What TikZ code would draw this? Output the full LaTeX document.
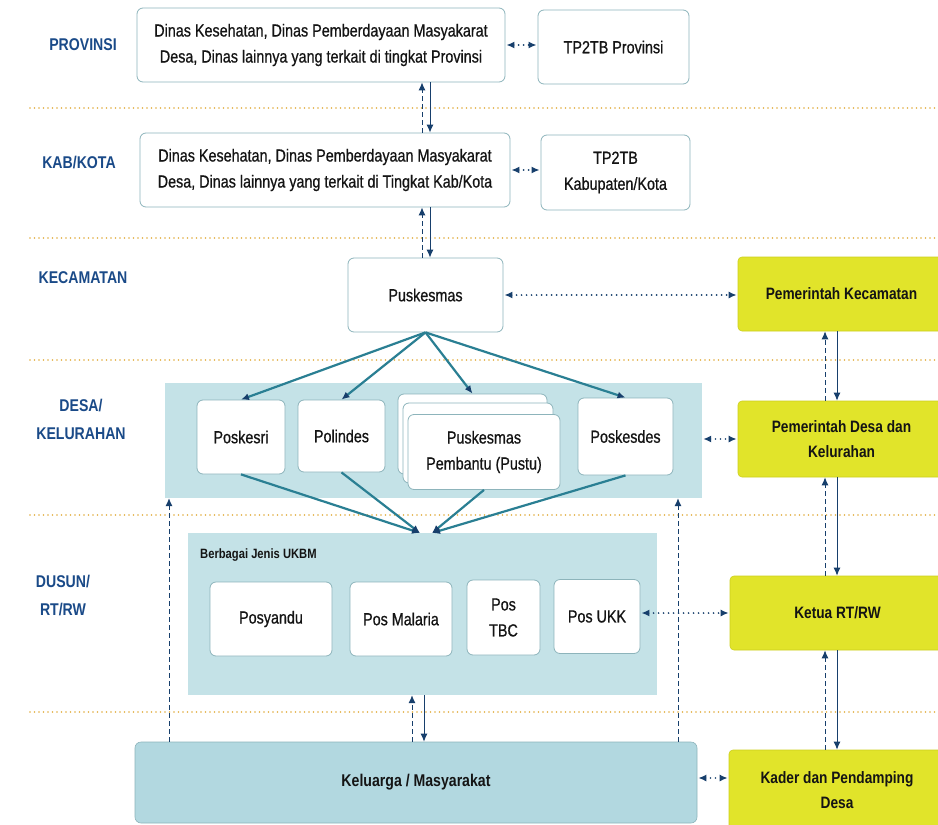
\documentclass[tikz,border=0pt]{standalone}
\usepackage{fontspec}
\setmainfont{Liberation Sans}[FakeStretch=0.83]
\newfontfamily\medfont{Liberation Sans}[FakeStretch=0.82, FakeBold=0.7]
\usetikzlibrary{arrows.meta}
\definecolor{arrnavy}{HTML}{173F6C}
\definecolor{tealc}{HTML}{2A7F93}
\definecolor{boxedge}{HTML}{8DB4BB}
\definecolor{yel}{HTML}{E1E42A}
\definecolor{yeledge}{HTML}{CDD01E}
\definecolor{bgblue}{HTML}{C4E2E7}
\definecolor{kelblue}{HTML}{B2D8E0}
\definecolor{lvlblue}{HTML}{1A4A88}
\definecolor{sepcol}{HTML}{E2AE40}
\definecolor{txt}{HTML}{141414}
\newcommand\boxfnt{\medfont\fontsize{17.5}{26}\selectfont}
\newcommand\ybfnt{\bfseries\fontsize{16.5}{25}\selectfont}
\newcommand\lvlfnt{\bfseries\fontsize{17}{28}\selectfont}
\begin{document}
\begin{tikzpicture}[x=1pt,y=-1pt,
  >={Latex[length=8pt,width=7pt,color=arrnavy]},
  wbox/.style={draw=boxedge, fill=white, rounded corners=6pt, line width=0.8pt, align=center, font=\boxfnt, text=txt, inner sep=2pt},
  ybox/.style={draw=yeledge, fill=yel, rounded corners=4pt, line width=0.6pt, align=center, font=\ybfnt, text=txt, inner sep=2pt},
  bgbox/.style={fill=bgblue, draw=none, inner sep=0pt},
  lvl/.style={text=lvlblue, font=\lvlfnt, align=center},
  sepline/.style={draw=sepcol, line width=1.8pt, dash pattern=on 0pt off 4.5pt, line cap=round},
  dotarr/.style={<->, draw=arrnavy, line width=1.8pt, dash pattern=on 0pt off 5pt, line cap=round, shorten <=1pt, shorten >=1pt},
  dashup/.style={->, draw=arrnavy, line width=1pt, dash pattern=on 5pt off 3pt},
  soliddn/.style={->, draw=arrnavy, line width=1pt},
  tealarr/.style={->, draw=tealc, line width=2.2pt}]
\useasboundingbox (0,0) rectangle (938,825);
\fill[white] (0,0) rectangle (938,825);

% separators
\foreach \yy in {108,238,360,515,712}
  \draw[sepline] (30,\yy) -- (938,\yy);

% level labels
\node[lvl] (lprov) at (83,45) {PROVINSI};
\node[lvl] (lkab) at (79,163) {KAB/KOTA};
\node[lvl] (lkec) at (83,278) {KECAMATAN};
\node[lvl] (ldesa) at (81,419) {DESA/\\KELURAHAN};
\node[lvl] (ldusun) at (63,596) {DUSUN/\\RT/RW};

% backgrounds
\node[bgbox, minimum width=537pt, minimum height=115pt] (desabg) at (433.5,440.5) {};
\node[bgbox, minimum width=469pt, minimum height=162pt] (ukbm) at (422.5,614) {};
\node[anchor=west, font=\bfseries\fontsize{13.5}{16}\selectfont, text=txt, inner sep=0pt] (ukbmlbl) at (200,555) {Berbagai Jenis UKBM};
\node[fill=kelblue, draw=boxedge, rounded corners=6pt, line width=0.6pt, minimum width=562pt, minimum height=81pt, font=\bfseries\fontsize{17}{24}\selectfont, text=txt] (kel) at (416,782.5) {Keluarga / Masyarakat};

% top boxes
\node[wbox, minimum width=368pt, minimum height=74pt] (prov) at (321,45) {Dinas Kesehatan, Dinas Pemberdayaan Masyakarat\\Desa, Dinas lainnya yang terkait di tingkat Provinsi};
\node[wbox, minimum width=151pt, minimum height=74pt] (tpprov) at (613.5,47) {TP2TB Provinsi};
\node[wbox, minimum width=370pt, minimum height=74pt] (kab) at (325,170) {Dinas Kesehatan, Dinas Pemberdayaan Masyakarat\\Desa, Dinas lainnya yang terkait di Tingkat Kab/Kota};
\node[wbox, minimum width=149pt, minimum height=75pt] (tpkab) at (615.5,172.5) {TP2TB\\Kabupaten/Kota};
\node[wbox, minimum width=155pt, minimum height=74pt] (pusk) at (425.5,295) {Puskesmas};

% desa boxes
\node[wbox, minimum width=88pt, minimum height=74pt] (poskesri) at (241,437) {Poskesri};
\node[wbox, minimum width=87pt, minimum height=72pt] (polindes) at (341.5,436) {Polindes};
\node[wbox, minimum width=149pt, minimum height=80pt] (pustub1) at (472.5,434) {};
\node[wbox, minimum width=150pt, minimum height=80pt] (pustub2) at (478,443) {};
\node[wbox, minimum width=152pt, minimum height=75pt] (pustu) at (484,452) {Puskesmas\\Pembantu (Pustu)};
\node[wbox, minimum width=95pt, minimum height=77pt] (poskesdes) at (625.5,436.5) {Poskesdes};

% ukbm boxes
\node[wbox, minimum width=122pt, minimum height=74pt] (posyandu) at (271,619) {Posyandu};
\node[wbox, minimum width=102pt, minimum height=74pt] (posmal) at (401,619) {Pos Malaria};
\node[wbox, minimum width=73pt, minimum height=75pt] (postbc) at (503.5,617.5) {Pos\\TBC};
\node[wbox, minimum width=86pt, minimum height=74pt] (posukk) at (597,616.5) {Pos UKK};

% yellow boxes
\node[ybox, minimum width=207pt, minimum height=74pt] (pkec) at (841.5,294) {Pemerintah Kecamatan};
\node[ybox, minimum width=207pt, minimum height=76pt] (pdesa) at (841.5,439) {Pemerintah Desa dan\\Kelurahan};
\node[ybox, minimum width=215pt, minimum height=74pt] (ketua) at (837.5,613) {Ketua RT/RW};
\node[ybox, minimum width=216pt, minimum height=80pt] (kader) at (837,790) {Kader dan Pendamping\\Desa};

% helper coordinates
\coordinate (va) at (422,0);
\coordinate (vb) at (430,0);
\coordinate (vc) at (412,0);
\coordinate (vd) at (424,0);
\coordinate (ve) at (825,0);
\coordinate (vf) at (837,0);
\coordinate (vl) at (169,0);
\coordinate (vr) at (678,0);
\coordinate (m1) at (420,533);
\coordinate (m2) at (432,533);
\coordinate (ky) at (0,778);

% horizontal dotted double arrows
\draw[dotarr] (prov.east) -- (prov.east -| tpprov.west);
\draw[dotarr] (kab.east) -- (kab.east -| tpkab.west);
\draw[dotarr] (pusk.east) -- (pusk.east -| pkec.west);
\draw[dotarr] (pdesa.west -| desabg.east) -- (pdesa.west);
\draw[dotarr] (posukk.east |- ketua.west) -- (ketua.west);
\draw[dotarr] (kel.east |- ky) -- (kader.west |- ky);

% vertical pairs
\draw[dashup] (kab.north -| va) -- (prov.south -| va);
\draw[soliddn] (prov.south -| vb) -- (kab.north -| vb);
\draw[dashup] (pusk.north -| va) -- (kab.south -| va);
\draw[soliddn] (kab.south -| vb) -- (pusk.north -| vb);
\draw[dashup] (kel.north -| vc) -- (ukbm.south -| vc);
\draw[soliddn] (ukbm.south -| vd) -- (kel.north -| vd);
\draw[dashup] (pdesa.north -| ve) -- (pkec.south -| ve);
\draw[soliddn] (pkec.south -| vf) -- (pdesa.north -| vf);
\draw[dashup] (ketua.north -| ve) -- (pdesa.south -| ve);
\draw[soliddn] (pdesa.south -| vf) -- (ketua.north -| vf);
\draw[dashup] (kader.north -| ve) -- (ketua.south -| ve);
\draw[soliddn] (ketua.south -| vf) -- (kader.north -| vf);
\draw[dashup] (kel.north -| vl) -- (desabg.south -| vl);
\draw[dashup] (kel.north -| vr) -- (desabg.south -| vr);

% puskesmas to desa
\draw[tealarr] (pusk.south) -- (poskesri.north);
\draw[tealarr] (pusk.south) -- (polindes.north);
\draw[tealarr] (pusk.south) -- (pustub1.north);
\draw[tealarr] (pusk.south) -- (poskesdes.north);

% desa to ukbm
\draw[tealarr] (poskesri.south) -- (m1);
\draw[tealarr] (polindes.south) -- (m1);
\draw[tealarr] (pustu.south) -- (m2);
\draw[tealarr] (poskesdes.south) -- (m2);
\end{tikzpicture}
\end{document}
